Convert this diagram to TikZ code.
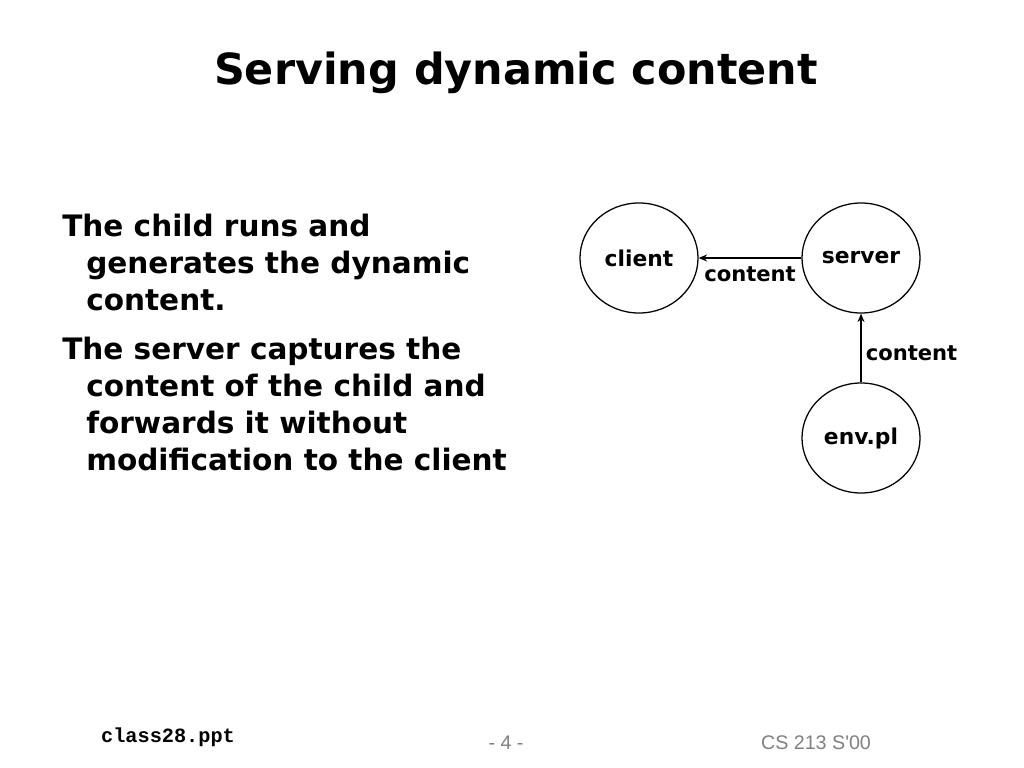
\documentclass[tikz,border=0pt]{standalone}
\usepackage{fontspec}
\setmainfont{DejaVu Sans}
\newfontfamily\footmono{Liberation Mono}
\newfontfamily\footsans{Liberation Sans}
\usetikzlibrary{positioning,shapes.geometric,arrows.meta}

\tikzset{
    proc/.style={draw, ellipse, line width=0.9pt, minimum width=2.95cm, minimum height=2.75cm, inner sep=0pt, font=\bfseries\fontsize{15.5}{18}\selectfont},
    flow/.style={-{Stealth[length=6pt,width=5pt]}, line width=0.8pt},
    lbl/.style={font=\bfseries\fontsize{15}{17}\selectfont, inner sep=1pt}
}

\begin{document}
\begin{tikzpicture}[x=0.025cm,y=-0.025cm]
    \useasboundingbox (0,0) rectangle (1024,768);

    % Title
    \node[font=\bfseries\fontsize{30.5}{36}\selectfont] (title) at (516,73) {Serving dynamic content};

    % Bullet text
    \node[anchor=north west, align=left, inner sep=0pt, font=\bfseries\fontsize{21}{26.3}\selectfont] (body) at (62,214) {%
        The child runs and\\
        \hspace*{0.6cm}generates the dynamic\\
        \hspace*{0.6cm}content.\\[0.3cm]
        The server captures the\\
        \hspace*{0.6cm}content of the child and\\
        \hspace*{0.6cm}forwards it without\\
        \hspace*{0.6cm}modification to the client};

    % Processes
    \node[proc] (client) at (639,258) {client};
    \node[proc] (server) at (861,258) {server};
    \node[proc] (env) at (861,438) {env.pl};

    % Data flow
    \draw[flow] (server.west) -- node[lbl, below=5pt] (c1) {content} (client.east);
    \draw[flow] (env.north) -- node[lbl, right=2pt, pos=0.43] (c2) {content} (server.south);

    % Footer
    \node[font=\footmono\bfseries\fontsize{14.4}{16}\selectfont] (file) at (168,737) {class28.ppt};
    \node[font=\footsans\fontsize{14}{16}\selectfont, text=gray] (page) at (506,743) {- 4 -};
    \node[font=\footsans\fontsize{14}{16}\selectfont, text=gray] (course) at (816,743) {CS 213 S'00};
\end{tikzpicture}
\end{document}
